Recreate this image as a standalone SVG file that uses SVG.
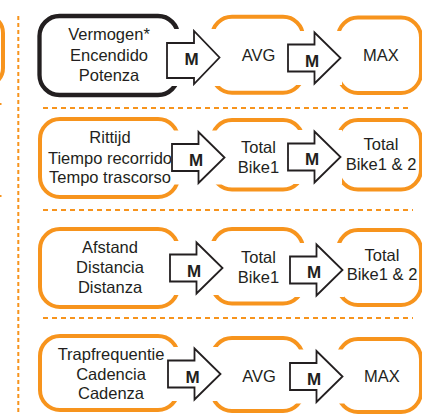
<svg xmlns="http://www.w3.org/2000/svg" xmlns:xlink="http://www.w3.org/1999/xlink" width="422" height="415" viewBox="0 0 422 415">
<style>
.box{fill:none;stroke:#F7941D;stroke-width:4}
.bbox{fill:none;stroke:#231F20;stroke-width:4.3}
.t{font-family:"Liberation Sans",Arial,sans-serif;font-size:16.5px;fill:#231F20;text-anchor:middle}
.m{font-family:"Liberation Sans",Arial,sans-serif;font-size:17px;font-weight:bold;fill:#231F20;text-anchor:middle}
.dh{stroke:#F7941D;stroke-width:2;stroke-dasharray:5 4;fill:none}
.dv{stroke:#F7941D;stroke-width:2;stroke-dasharray:4 3;fill:none}
.ar{fill:#fff;stroke:#231F20;stroke-width:1.8;stroke-linejoin:miter}
</style>
<defs>
<g id="arr">
<rect x="-1" y="-27" width="55" height="54" fill="#fff"/>
<path d="M0,-13.5 H26.5 V-25.5 L52.5,0 L26.5,25.5 V13.5 H0 Z" class="ar"/>
</g>
</defs>
<rect width="422" height="415" fill="#fff"/>
<g id="frame">
<rect x="-100" y="15" width="103" height="71" rx="18" class="box"/>
<rect x="0" y="103" width="1.5" height="2" fill="#F7941D"/>
<rect x="0" y="195" width="1.5" height="2" fill="#F7941D"/>
<line x1="18.3" y1="16" x2="18.3" y2="413" class="dv"/>
<line x1="43" y1="108" x2="412" y2="108" class="dh"/>
<line x1="43" y1="210" x2="413" y2="210" class="dh"/>
<line x1="43" y1="318" x2="413" y2="318" class="dh"/>
</g>
<g id="n-power">
<rect x="39.5" y="16" width="138.5" height="79" rx="20" class="bbox"/>
<text class="t" x="109" y="40">Vermogen*</text>
<text class="t" x="109" y="60.5">Encendido</text>
<text class="t" x="109" y="81">Potenza</text>
</g>
<g id="n-power-avg">
<rect x="212" y="16.7" width="91" height="76" rx="20" class="box"/>
<text class="t" x="258.5" y="61">AVG</text>
</g>
<g id="n-power-max">
<rect x="338" y="17.5" width="83" height="75.5" rx="20" class="box"/>
<text class="t" x="381" y="61">MAX</text>
</g>
<g id="n-time">
<rect x="40" y="119" width="138" height="78" rx="20" class="box"/>
<text class="t" x="110" y="143">Rittijd</text>
<text class="t" x="110" y="164">Tiempo recorrido</text>
<text class="t" x="110" y="183">Tempo trascorso</text>
</g>
<g id="n-time-b1">
<rect x="212" y="120" width="91" height="69.5" rx="20" class="box"/>
<text class="t" x="258.5" y="153">Total</text>
<text class="t" x="258.5" y="173">Bike1</text>
</g>
<g id="n-time-b12">
<rect x="338" y="120" width="83" height="69.5" rx="20" class="box"/>
<text class="t" x="381" y="150">Total</text>
<text class="t" x="381" y="170">Bike1 &amp; 2</text>
</g>
<g id="n-dist">
<rect x="40" y="229" width="138" height="78" rx="20" class="box"/>
<text class="t" x="110" y="252.7">Afstand</text>
<text class="t" x="110" y="273">Distancia</text>
<text class="t" x="110" y="293">Distanza</text>
</g>
<g id="n-dist-b1">
<rect x="212" y="229" width="91" height="74.5" rx="20" class="box"/>
<text class="t" x="258.5" y="263">Total</text>
<text class="t" x="258.5" y="283">Bike1</text>
</g>
<g id="n-dist-b12">
<rect x="338" y="230" width="83" height="75" rx="20" class="box"/>
<text class="t" x="382" y="261">Total</text>
<text class="t" x="382" y="280">Bike1 &amp; 2</text>
</g>
<g id="n-cad">
<rect x="40" y="336" width="138" height="74" rx="20" class="box"/>
<text class="t" x="111" y="360">Trapfrequentie</text>
<text class="t" x="111" y="380">Cadencia</text>
<text class="t" x="111" y="399">Cadenza</text>
</g>
<g id="n-cad-avg">
<rect x="212" y="338" width="91" height="73" rx="20" class="box"/>
<text class="t" x="259" y="382">AVG</text>
</g>
<g id="n-cad-max">
<rect x="338" y="339" width="83" height="73" rx="20" class="box"/>
<text class="t" x="382" y="382">MAX</text>
</g>
<g id="connectors">
<rect x="166" y="29" width="55" height="57" fill="#fff"/>
<path d="M167,43 H194 V31 L219.5,57.5 L194,84 V78 H167 Z" class="ar"/>
<text class="m" x="191.5" y="65">M</text>
<use xlink:href="#arr" x="288" y="58"/>
<text class="m" x="312" y="66.5">M</text>
<use xlink:href="#arr" x="172" y="157.5"/>
<text class="m" x="196" y="165.5">M</text>
<use xlink:href="#arr" x="288" y="157"/>
<text class="m" x="312" y="165">M</text>
<use xlink:href="#arr" x="170" y="268"/>
<text class="m" x="194" y="276.5">M</text>
<use xlink:href="#arr" x="290" y="270"/>
<text class="m" x="314" y="278">M</text>
<use xlink:href="#arr" x="168" y="374"/>
<text class="m" x="192.5" y="382.5">M</text>
<use xlink:href="#arr" x="290" y="376.5"/>
<text class="m" x="314" y="384.5">M</text>
</g>
</svg>
